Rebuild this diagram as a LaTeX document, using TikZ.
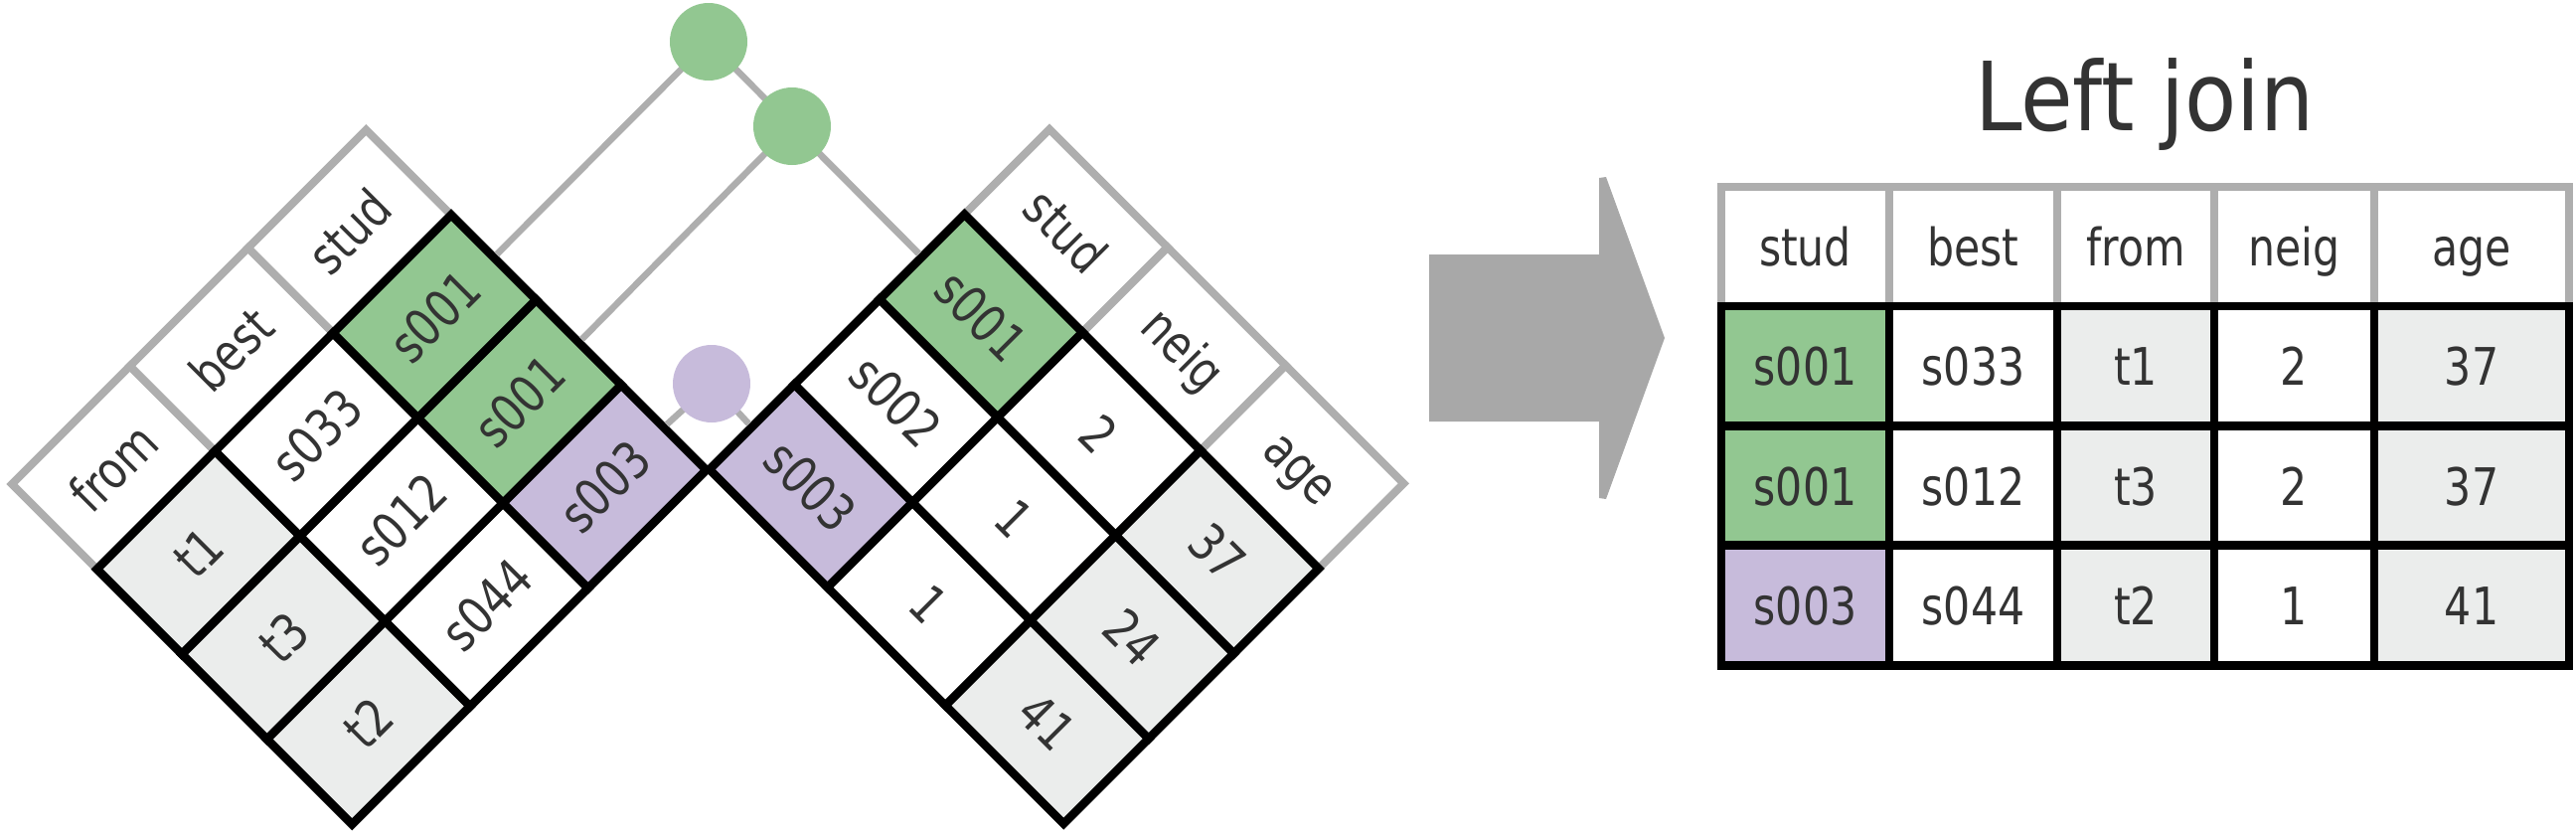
\documentclass[tikz,border=0pt]{standalone}
\usepackage{fontspec}
\setmainfont{DejaVu Sans}[FakeStretch=0.82]
\newfontfamily\titlefont{DejaVu Sans}[FakeStretch=0.89]

\definecolor{joingreen}{HTML}{92C791}
\definecolor{joinpurple}{HTML}{C7BBDB}
\definecolor{keygray}{HTML}{EBEDEC}
\definecolor{rulegray}{HTML}{AEAEAE}
\definecolor{arrowgray}{HTML}{A8A8A8}
\definecolor{textgray}{HTML}{333333}

\tikzset{
  cell/.style={draw=black, line width=8.5pt, minimum width=168pt, minimum height=121pt,
    inner sep=0pt, text=textgray, text height=38pt, text depth=0pt,
    font=\fontsize{52}{62}\selectfont},
  headcell/.style={cell, draw=rulegray, line width=8pt, fill=white},
  link/.style={draw=rulegray, line width=6.5pt},
  dot/.style={circle, minimum size=78pt, inner sep=0pt},
}

\begin{document}
\begin{tikzpicture}[x=1pt, y=-1pt]
  \useasboundingbox (0,0) rectangle (2592,841);

  % left table, turned up
  \begin{scope}[shift={(12,487)}, rotate=45, transform shape]
    \foreach \txt [count=\i] in {from, best, stud}
      \node[headcell] (lh\i) at ({168*\i-84}, 60.5) {\txt};
    \foreach \txt/\fc [count=\i] in {t1/keygray, s033/white, s001/joingreen}
      \node[cell, fill=\fc] (l1\i) at ({168*\i-84}, 181.5) {\txt};
    \foreach \txt/\fc [count=\i] in {t3/keygray, s012/white, s001/joingreen}
      \node[cell, fill=\fc] (l2\i) at ({168*\i-84}, 302.5) {\txt};
    \foreach \txt/\fc [count=\i] in {t2/keygray, s044/white, s003/joinpurple}
      \node[cell, fill=\fc] (l3\i) at ({168*\i-84}, 423.5) {\txt};
  \end{scope}

  % right table, turned down
  \begin{scope}[shift={(1056,130)}, rotate=-45, transform shape]
    \foreach \txt [count=\i] in {stud, neig, age}
      \node[headcell] (rh\i) at ({168*\i-84}, 60.5) {\txt};
    \foreach \txt/\fc [count=\i] in {s001/joingreen, 2/white, 37/keygray}
      \node[cell, fill=\fc] (r1\i) at ({168*\i-84}, 181.5) {\txt};
    \foreach \txt/\fc [count=\i] in {s002/white, 1/white, 24/keygray}
      \node[cell, fill=\fc] (r2\i) at ({168*\i-84}, 302.5) {\txt};
    \foreach \txt/\fc [count=\i] in {s003/joinpurple, 1/white, 41/keygray}
      \node[cell, fill=\fc] (r3\i) at ({168*\i-84}, 423.5) {\txt};
  \end{scope}

  % matches
  \coordinate (m1) at (713,42);
  \coordinate (m2) at (797,127);
  \coordinate (m3) at (716,386);
  \draw[link] (l13.east) -- (m1) -- (r11.west);
  \draw[link] (l23.east) -- (m2) -- (r11.west);
  \draw[link] (l33.east) -- (m3) -- (r31.west);
  \node[dot, fill=joingreen] (d1) at (m1) {};
  \node[dot, fill=joingreen] (d2) at (m2) {};
  \node[dot, fill=joinpurple] (d3) at (m3) {};

  % arrow
  \fill[arrowgray] (1438,256) -- (1609,256) -- (1609,179) -- (1616,178) -- (1675,340)
    -- (1616,502) -- (1609,501) -- (1609,424) -- (1438,424) -- cycle;

  % result
  \node[text=textgray, font=\titlefont\fontsize{96}{110}\selectfont, anchor=base] (title) at (2158,131) {Left join};
  \foreach \txt/\cx/\w [count=\i] in {stud/1816.5/169, best/1985.5/169, from/2149/158, neig/2308.5/161, age/2487/196}
    \node[headcell, minimum width=\w pt] (oh\i) at (\cx, 248) {\txt};
  \foreach \txt/\fc/\cx/\w [count=\i] in {s001/joingreen/1816.5/169, s033/white/1985.5/169, t1/keygray/2149/158, 2/white/2308.5/161, 37/keygray/2487/196}
    \node[cell, fill=\fc, minimum width=\w pt] (o1\i) at (\cx, 368.5) {\txt};
  \foreach \txt/\fc/\cx/\w [count=\i] in {s001/joingreen/1816.5/169, s012/white/1985.5/169, t3/keygray/2149/158, 2/white/2308.5/161, 37/keygray/2487/196}
    \node[cell, fill=\fc, minimum width=\w pt] (o2\i) at (\cx, 489) {\txt};
  \foreach \txt/\fc/\cx/\w [count=\i] in {s003/joinpurple/1816.5/169, s044/white/1985.5/169, t2/keygray/2149/158, 1/white/2308.5/161, 41/keygray/2487/196}
    \node[cell, fill=\fc, minimum width=\w pt] (o3\i) at (\cx, 609) {\txt};
\end{tikzpicture}
\end{document}
